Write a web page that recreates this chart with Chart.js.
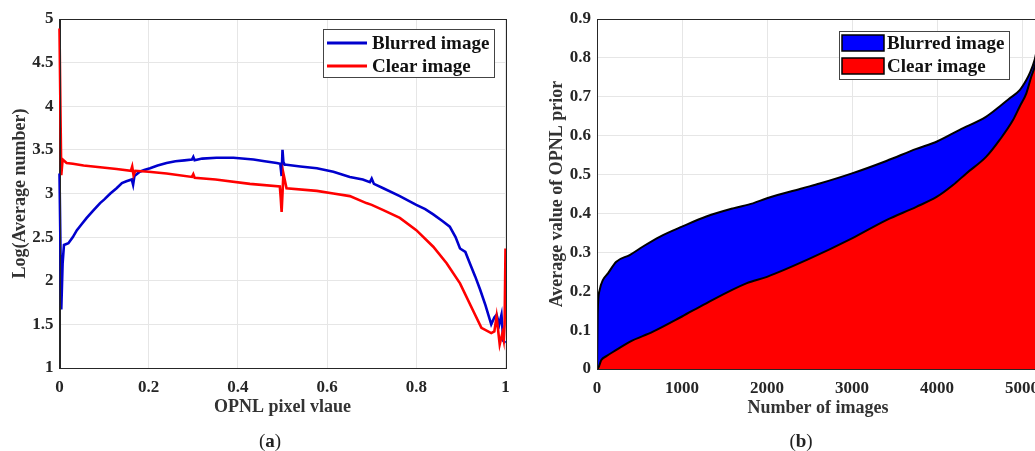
<!DOCTYPE html>
<html>
<head>
<meta charset="utf-8">
<script src="https://cdn.jsdelivr.net/npm/chart.js@4.4.0/dist/chart.umd.min.js"></script>
<style>
html, body { margin: 0; padding: 0; background: #fff; overflow: hidden; width: 1035px; height: 451px; }
#wrapA { position: absolute; left: 0; top: 0; width: 520px; height: 451px; }
#wrapB { position: absolute; left: 520px; top: 0; width: 530px; height: 451px; }
.cap { position: absolute; top: 430px; width: 60px; text-align: center; font: 19px "Liberation Serif", serif; color: #222; }
</style>
</head>
<body>
<div id="wrapA"><canvas id="chartA" width="520" height="451"></canvas></div>
<div id="wrapB"><canvas id="chartB" width="530" height="451"></canvas></div>
<div class="cap" style="left:240px">(<b>a</b>)</div>
<div class="cap" style="left:771px">(<b>b</b>)</div>
<script>
// (a) log of average number vs OPNL pixel value
const opnlBlurredX = [0, 0.004, 0.007, 0.01, 0.02, 0.03, 0.039, 0.05, 0.061, 0.075, 0.091, 0.1, 0.114, 0.128, 0.14, 0.15, 0.162, 0.165, 0.168, 0.18, 0.19, 0.203, 0.22, 0.24, 0.26, 0.28, 0.297, 0.3, 0.303, 0.32, 0.352, 0.39, 0.435, 0.46, 0.487, 0.495, 0.498, 0.5, 0.502, 0.505, 0.509, 0.54, 0.577, 0.614, 0.651, 0.68, 0.696, 0.7, 0.705, 0.726, 0.763, 0.8, 0.82, 0.838, 0.86, 0.875, 0.888, 0.898, 0.91, 0.92, 0.932, 0.943, 0.955, 0.968, 0.975, 0.98, 0.986, 0.991, 0.995, 1.0];
const logBlurred = [3.23, 1.67, 2.2, 2.41, 2.43, 2.5, 2.58, 2.65, 2.72, 2.8, 2.89, 2.93, 3.0, 3.06, 3.12, 3.14, 3.16, 3.1, 3.2, 3.25, 3.27, 3.29, 3.32, 3.35, 3.37, 3.38, 3.39, 3.42, 3.38, 3.4, 3.41, 3.41, 3.39, 3.37, 3.35, 3.34, 3.2, 3.5, 3.36, 3.33, 3.33, 3.31, 3.29, 3.25, 3.19, 3.16, 3.13, 3.17, 3.11, 3.06, 2.97, 2.87, 2.82, 2.76, 2.68, 2.62, 2.5, 2.37, 2.33, 2.2, 2.05, 1.9, 1.72, 1.5, 1.58, 1.61, 1.5, 1.61, 1.31, 1.29];
const opnlClearX = [0, 0.002, 0.004, 0.007, 0.016, 0.03, 0.054, 0.091, 0.128, 0.16, 0.163, 0.166, 0.17, 0.2, 0.24, 0.297, 0.3, 0.303, 0.35, 0.427, 0.494, 0.496, 0.498, 0.5, 0.502, 0.509, 0.577, 0.614, 0.651, 0.688, 0.7, 0.726, 0.763, 0.8, 0.838, 0.868, 0.898, 0.928, 0.946, 0.968, 0.975, 0.98, 0.987, 0.993, 0.996, 0.998, 1.0];
const logClear = [4.89, 4.0, 3.21, 3.39, 3.35, 3.34, 3.32, 3.3, 3.28, 3.26, 3.31, 3.21, 3.26, 3.25, 3.23, 3.19, 3.22, 3.18, 3.16, 3.11, 3.08, 2.95, 2.79, 3.0, 3.23, 3.06, 3.03, 3.0, 2.97, 2.89, 2.87, 2.81, 2.72, 2.58, 2.39, 2.2, 1.97, 1.65, 1.46, 1.4, 1.42, 1.59, 1.27, 1.4, 1.32, 1.5, 2.37];
const ticksAX = [0, 0.2, 0.4, 0.6, 0.8, 1];
const ticksAY = [1, 1.5, 2, 2.5, 3, 3.5, 4, 4.5, 5];

// (b) sorted average OPNL prior per image
const imgBlurredN = [0, 8, 31, 70, 129, 227, 384, 541, 737, 1000, 1286, 1600, 1835, 2000, 2420, 2620, 3000, 3404, 3757, 4000, 4267, 4580, 4737, 4855, 4973, 5051, 5090, 5149, 5200];
const priorBlurred = [0, 0.143, 0.203, 0.229, 0.246, 0.276, 0.293, 0.315, 0.34, 0.366, 0.392, 0.413, 0.426, 0.439, 0.465, 0.477, 0.503, 0.535, 0.566, 0.585, 0.615, 0.649, 0.675, 0.696, 0.717, 0.743, 0.76, 0.795, 0.85];
const imgClearN = [0, 16, 51, 110, 227, 384, 659, 1000, 1286, 1757, 2000, 2463, 3000, 3404, 3757, 4000, 4188, 4345, 4580, 4737, 4894, 4973, 5051, 5110, 5149, 5200];
const priorClear = [0, 0.003, 0.023, 0.033, 0.049, 0.07, 0.096, 0.135, 0.169, 0.22, 0.237, 0.28, 0.336, 0.383, 0.417, 0.443, 0.473, 0.503, 0.546, 0.589, 0.64, 0.675, 0.709, 0.752, 0.777, 0.83];
const ticksBX = [0, 1000, 2000, 3000, 4000, 5000];
const ticksBY = [0, 0.1, 0.2, 0.3, 0.4, 0.5, 0.6, 0.7, 0.8, 0.9];

const seriesNames = ['Blurred image', 'Clear image'];
const BLUE_LINE = 'rgb(0,0,205)';
const RED = 'rgb(255,0,0)';
const FONT = '"Liberation Serif", "Times New Roman", serif';
const INK = '#262626';

const pts = (xs, ys) => xs.map((x, i) => ({ x: x, y: ys[i] }));

// MATLAB style box around the axes
const axesBox = {
    id: 'axesBox',
    afterDatasetsDraw(chart) {
        const a = chart.chartArea, ctx = chart.ctx;
        ctx.save();
        ctx.strokeStyle = INK;
        ctx.lineWidth = 1;
        ctx.strokeRect(Math.round(a.left) + 0.5, Math.round(a.top) + 0.5, Math.round(a.right - a.left), Math.round(a.bottom - a.top));
        ctx.restore();
    }
};

// legend inside the plot, top right
const boxLegend = {
    id: 'boxLegend',
    afterDraw(chart, args, o) {
        const ctx = chart.ctx;
        ctx.save();
        ctx.fillStyle = '#fff';
        ctx.fillRect(o.x, o.y, o.w, o.h);
        ctx.strokeStyle = '#444';
        ctx.lineWidth = 1;
        ctx.strokeRect(o.x + 0.5, o.y + 0.5, o.w, o.h);
        ctx.font = 'bold 19px ' + FONT;
        ctx.textBaseline = 'middle';
        chart.data.datasets.forEach((ds, i) => {
            const cy = o.y + o.firstRow + i * o.rowGap;
            if (o.patch) {
                ctx.fillStyle = ds.backgroundColor;
                ctx.fillRect(o.x + 3, cy - 8, 42, 16);
                ctx.strokeStyle = '#000';
                ctx.lineWidth = 1.5;
                ctx.strokeRect(o.x + 3, cy - 8, 42, 16);
            } else {
                ctx.strokeStyle = ds.borderColor;
                ctx.lineWidth = 3;
                ctx.beginPath();
                ctx.moveTo(o.x + 4, cy);
                ctx.lineTo(o.x + 44, cy);
                ctx.stroke();
            }
            ctx.fillStyle = '#111';
            ctx.fillText(ds.label, o.x + o.textX, cy + 1);
        });
        ctx.restore();
    }
};

function axisX(title, ticks, min, max) {
    return {
        type: 'linear', min: min, max: max,
        afterBuildTicks: s => { s.ticks = ticks.map(v => ({ value: v })); },
        afterFit: s => { s.height = 50; },
        grid: { color: '#e6e6e6', drawTicks: false },
        border: { color: INK },
        ticks: { color: INK, padding: 9, maxRotation: 0, font: { family: FONT, size: 17, weight: 'bold' }, callback: v => String(v) },
        title: { display: true, text: title, color: '#333', padding: { top: 0, bottom: 0 }, font: { family: FONT, size: 18, weight: 'bold' } }
    };
}
function axisY(title, ticks, min, max, width, titlePad) {
    return {
        type: 'linear', min: min, max: max,
        afterBuildTicks: s => { s.ticks = ticks.map(v => ({ value: v })); },
        afterFit: s => { s.width = width; },
        grid: { color: '#e6e6e6', drawTicks: false },
        border: { color: INK },
        ticks: { color: INK, padding: 6, font: { family: FONT, size: 17, weight: 'bold' }, callback: v => String(v) },
        title: { display: true, text: title, color: '#333', padding: { top: titlePad, bottom: 0 }, font: { family: FONT, size: 18, weight: 'bold' } }
    };
}

new Chart(document.getElementById('chartA'), {
    type: 'line',
    data: {
        datasets: [
            { label: seriesNames[0], data: pts(opnlBlurredX, logBlurred), borderColor: BLUE_LINE, borderWidth: 2.6, pointRadius: 0, order: 1, clip: { left: 4, top: 0, right: 4, bottom: 0 } },
            { label: seriesNames[1], data: pts(opnlClearX, logClear), borderColor: RED, borderWidth: 2.6, pointRadius: 0, order: 0, clip: { left: 4, top: 0, right: 4, bottom: 0 } }
        ]
    },
    options: {
        responsive: false,
        animation: false,
        layout: { padding: { left: 0, right: 14.5, top: 19, bottom: 33 } },
        scales: {
            x: axisX('OPNL pixel vlaue', ticksAX, 0, 1),
            y: axisY('Log(Average number)', ticksAY, 1, 5, 59.5, 10)
        },
        plugins: {
            legend: { display: false },
            tooltip: { enabled: false },
            boxLegend: { x: 323, y: 29, w: 171, h: 48, firstRow: 14, rowGap: 23, textX: 49, patch: false }
        }
    },
    plugins: [axesBox, boxLegend]
});

new Chart(document.getElementById('chartB'), {
    type: 'line',
    data: {
        datasets: [
            { label: seriesNames[0], data: pts(imgBlurredN, priorBlurred), borderColor: '#000', backgroundColor: 'rgb(0,0,255)', fill: 'origin', borderWidth: 2, pointRadius: 0, cubicInterpolationMode: 'monotone', order: 1 },
            { label: seriesNames[1], data: pts(imgClearN, priorClear), borderColor: '#000', backgroundColor: RED, fill: 'origin', borderWidth: 2, pointRadius: 0, cubicInterpolationMode: 'monotone', order: 0 }
        ]
    },
    options: {
        responsive: false,
        animation: false,
        layout: { padding: { left: 0, right: 11, top: 19, bottom: 32 } },
        scales: {
            x: axisX('Number of images', ticksBX, 0, 5200),
            y: axisY('Average value of OPNL prior', ticksBY, 0, 0.9, 77, 27)
        },
        plugins: {
            legend: { display: false },
            tooltip: { enabled: false },
            boxLegend: { x: 319, y: 31, w: 170, h: 48, firstRow: 12, rowGap: 23, textX: 48, patch: true }
        }
    },
    plugins: [axesBox, boxLegend]
});
</script>
</body>
</html>
